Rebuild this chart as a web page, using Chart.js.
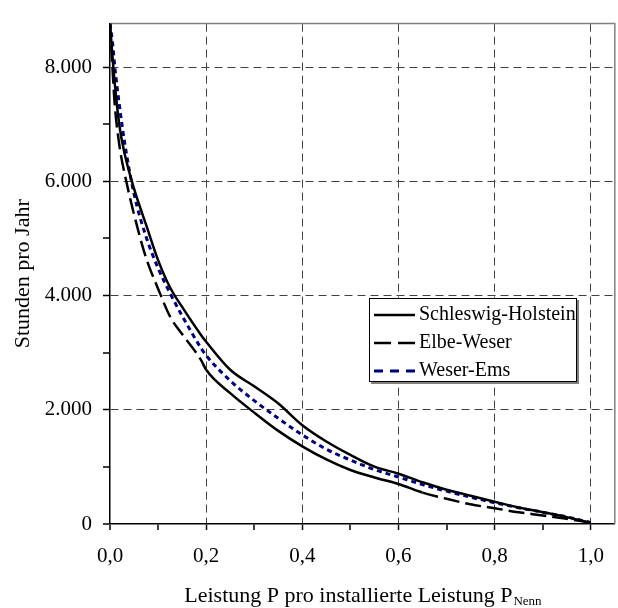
<!DOCTYPE html>
<html lang="de">
<head>
<meta charset="utf-8">
<title>Dauerlinien der Windeinspeisung</title>
<script src="https://cdn.jsdelivr.net/npm/chart.js@4.4.1/dist/chart.umd.min.js"></script>
<style>
  html, body { margin: 0; padding: 0; background: #fff; }
  canvas { display: block; }
</style>
</head>
<body>
<canvas id="dauerlinie" width="618" height="608"></canvas>
<script>
// Leistung P / P_Nenn und zugehörige Stunden pro Jahr je Region
const leistung = [0, 0.005, 0.01, 0.02, 0.03, 0.05, 0.075, 0.1, 0.125, 0.15, 0.19, 0.2, 0.25, 0.3, 0.35, 0.4, 0.45, 0.5, 0.55, 0.6, 0.65, 0.7, 0.75, 0.8, 0.85, 0.9, 0.95, 1.0];
const schleswigHolstein = [8760, 8200, 7700, 6950, 6500, 5870, 5240, 4620, 4140, 3800, 3300, 3190, 2700, 2410, 2110, 1730, 1445, 1210, 1005, 880, 730, 600, 495, 390, 290, 207, 120, 20];
const elbeWeser = [8760, 8000, 7330, 6600, 6150, 5420, 4660, 4120, 3630, 3325, 2860, 2700, 2290, 1950, 1630, 1360, 1130, 945, 815, 700, 550, 441, 345, 275, 205, 150, 90, 25];
const weserEms = [8760, 8450, 8000, 7300, 6700, 5780, 5030, 4480, 4040, 3645, 3070, 2950, 2510, 2160, 1850, 1560, 1310, 1120, 953, 822, 690, 575, 470, 373, 285, 205, 125, 25];

const yTickValues = [0, 1000, 2000, 3000, 4000, 5000, 6000, 7000, 8000];
const xTickValues = [0, 0.1, 0.2, 0.3, 0.4, 0.5, 0.6, 0.7, 0.8, 0.9, 1.0];

const SERIF = '"Liberation Serif", "Times New Roman", serif';

function toPoints(ys) {
  return leistung.map((x, i) => ({ x, y: ys[i] }));
}

function fmtThousands(v) {
  return String(v).replace(/\B(?=(\d{3})+(?!\d))/g, '.');
}

const isMajorX = v => Math.round(v * 10) % 2 === 0;
const isMajorY = v => v % 2000 === 0;

// grauer Rahmen oben und rechts um die Zeichenfläche
const plotFrame = {
  id: 'plotFrame',
  beforeDatasetsDraw(chart) {
    const { ctx, chartArea: a } = chart;
    ctx.save();
    ctx.strokeStyle = '#808080';
    ctx.lineWidth = 1.5;
    ctx.beginPath();
    ctx.moveTo(a.left, a.top);
    ctx.lineTo(a.right, a.top);
    ctx.lineTo(a.right, a.bottom);
    ctx.stroke();
    ctx.restore();
  }
};

// x-Achsentitel mit tiefgestelltem "Nenn"
const xTitle = {
  id: 'xTitle',
  afterDraw(chart) {
    const { ctx, chartArea: a } = chart;
    const main = 'Leistung P pro installierte Leistung P';
    const sub = 'Nenn';
    ctx.save();
    ctx.fillStyle = '#000';
    ctx.textBaseline = 'alphabetic';
    ctx.font = `22px ${SERIF}`;
    const wMain = ctx.measureText(main).width;
    ctx.font = `13px ${SERIF}`;
    const wSub = ctx.measureText(sub).width;
    const x0 = (a.left + a.right) / 2 - (wMain + wSub) / 2;
    ctx.font = `22px ${SERIF}`;
    ctx.fillText(main, x0, 602);
    ctx.font = `13px ${SERIF}`;
    ctx.fillText(sub, x0 + wMain + 1, 605);
    ctx.restore();
  }
};

// Legende im Diagramm mit Schatten
const boxLegend = {
  id: 'boxLegend',
  afterDraw(chart) {
    const { ctx } = chart;
    const box = { x: 369, y: 298, w: 208, h: 84 };
    ctx.save();
    ctx.fillStyle = '#808080';
    ctx.fillRect(box.x + 2, box.y + 2, box.w, box.h);
    ctx.fillStyle = '#fff';
    ctx.fillRect(box.x, box.y, box.w, box.h);
    ctx.strokeStyle = '#000';
    ctx.lineWidth = 1;
    ctx.strokeRect(box.x + 0.5, box.y + 0.5, box.w - 1, box.h - 1);
    ctx.font = `20px ${SERIF}`;
    ctx.textBaseline = 'middle';
    chart.data.datasets.forEach((ds, i) => {
      const y = box.y + 17 + i * 28;
      ctx.strokeStyle = ds.borderColor;
      ctx.lineWidth = ds.borderWidth;
      ctx.setLineDash(ds.legendDash || []);
      ctx.beginPath();
      ctx.moveTo(box.x + 5, y);
      ctx.lineTo(box.x + 46, y);
      ctx.stroke();
      ctx.setLineDash([]);
      ctx.fillStyle = '#000';
      ctx.fillText(ds.label, box.x + 50, y);
    });
    ctx.restore();
  }
};

new Chart(document.getElementById('dauerlinie'), {
  type: 'line',
  data: {
    datasets: [
      {
        label: 'Schleswig-Holstein',
        data: toPoints(schleswigHolstein),
        borderColor: '#000',
        borderWidth: 2.5,
        legendDash: []
      },
      {
        label: 'Elbe-Weser',
        data: toPoints(elbeWeser),
        borderColor: '#000',
        borderWidth: 2.5,
        borderDash: [16, 6],
        legendDash: [17, 7],
        // dicht liegende Stützstellen im Mittelteil wirken durchgezogen
        segment: {
          borderDash: c => (c.p0.parsed.x >= 0.2 && c.p1.parsed.x <= 0.65) ? [] : undefined
        }
      },
      {
        label: 'Weser-Ems',
        data: toPoints(weserEms),
        borderColor: '#000080',
        borderWidth: 3,
        borderDash: [5, 4],
        legendDash: [9, 7]
      }
    ]
  },
  options: {
    responsive: false,
    devicePixelRatio: 1,
    animation: false,
    parsing: false,
    layout: { padding: { top: 17, right: 2, left: 0, bottom: 0 } },
    elements: {
      point: { radius: 0 },
      line: { cubicInterpolationMode: 'monotone', borderCapStyle: 'butt' }
    },
    plugins: {
      legend: { display: false },
      tooltip: { enabled: false }
    },
    scales: {
      x: {
        type: 'linear',
        min: 0,
        max: 1.05,
        afterBuildTicks: s => { s.ticks = xTickValues.map(value => ({ value })); },
        afterFit: s => { s.height = 84; },
        ticks: {
          autoSkip: false,
          maxRotation: 0,
          padding: 14,
          color: '#000',
          font: { family: SERIF, size: 21 },
          callback: v => isMajorX(v) ? v.toFixed(1).replace('.', ',') : ''
        },
        grid: {
          color: '#404040',
          lineWidth: c => (c.tick && c.tick.value > 0 && isMajorX(c.tick.value)) ? 1 : 0,
          tickColor: '#000',
          tickLength: 6,
          tickWidth: 1.5
        },
        border: { display: true, color: '#000', width: 1.5, dash: [8, 5] }
      },
      y: {
        type: 'linear',
        min: 0,
        max: 8760,
        afterBuildTicks: s => { s.ticks = yTickValues.map(value => ({ value })); },
        afterFit: s => { s.width = 110; },
        title: {
          display: true,
          text: 'Stunden pro Jahr',
          color: '#000',
          font: { family: SERIF, size: 22 },
          padding: { top: 10, bottom: 0 }
        },
        ticks: {
          autoSkip: false,
          padding: 11,
          color: '#000',
          font: { family: SERIF, size: 21 },
          callback: v => isMajorY(v) ? fmtThousands(v) : ''
        },
        grid: {
          color: '#404040',
          lineWidth: c => (c.tick && c.tick.value > 0 && isMajorY(c.tick.value)) ? 1 : 0,
          tickColor: '#000',
          tickLength: 7,
          tickWidth: 1.5
        },
        border: { display: true, color: '#000', width: 1.5, dash: [8, 5] }
      }
    }
  },
  plugins: [plotFrame, xTitle, boxLegend]
});
</script>
</body>
</html>
